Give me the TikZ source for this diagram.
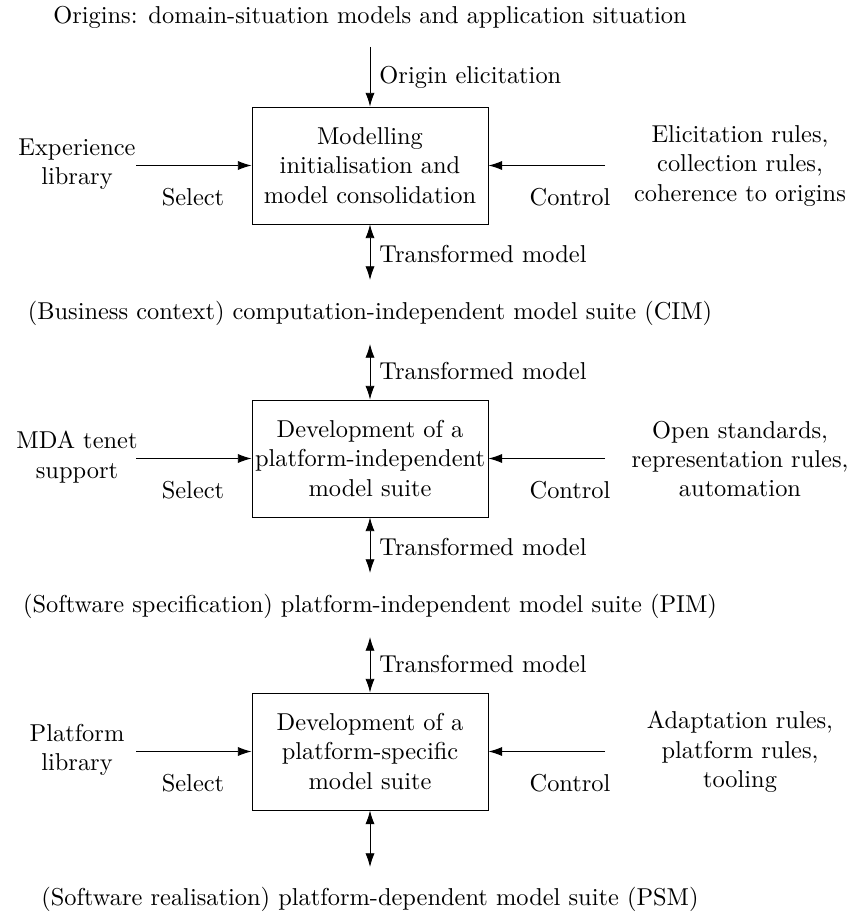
\documentclass[tikz,border=0pt]{standalone}
\usetikzlibrary{arrows.meta}
\begin{document}
\begin{tikzpicture}[x=0.4367pt,y=-0.4367pt,
  every node/.append style={font=\fontsize{10.66pt}{12.8pt}\selectfont},
  proc/.style={draw,minimum width=236*0.4367pt,minimum height=117*0.4367pt,align=center,inner sep=1pt},
  txt/.style={align=center,inner sep=0pt},
  lbl/.style={anchor=west,inner sep=0pt},
  flow/.style={-{Latex[length=6pt,width=4pt]}},
  both/.style={{Latex[length=6pt,width=4pt]}-{Latex[length=6pt,width=4pt]}}]
\useasboundingbox (0,0) rectangle (854,913);

% ---- stage 1: modelling initialisation ----
\node[txt] (orig) at (370,17) {Origins: domain-situation models and application situation};
\node[proc] (b1) at (370,165.5) {Modelling\\initialisation and\\model consolidation};
\coordinate (o1) at (370,47);
\draw[flow] (o1) -- (b1.north);
\node[lbl] (oe) at (379,77) {Origin elicitation};
\node[txt] (exp) at (77,164) {Experience\\library};
\coordinate (s1) at (136,165.5);
\draw[flow] (s1) -- (b1.west);
\node[txt] (sel1) at (193,197) {Select};
\node[txt] (rul1) at (740,166) {Elicitation rules,\\collection rules,\\coherence to origins};
\coordinate (c1) at (605,165.5);
\draw[flow] (c1) -- (b1.east);
\node[txt] (ctl1) at (570,197) {Control};
\coordinate (d1) at (370,280);
\draw[both] (b1.south) -- (d1);
\node[lbl] (tm1) at (379,254) {Transformed model};
\node[txt] (cim) at (370,313) {(Business context) computation-independent model suite (CIM)};

% ---- stage 2: platform-independent model suite ----
\coordinate (u2) at (370,344);
\node[proc] (b2) at (370,458.5) {Development of a\\platform-independent\\model suite};
\draw[both] (u2) -- (b2.north);
\node[lbl] (tm2) at (379,371) {Transformed model};
\node[txt] (mda) at (77,457) {MDA tenet\\support};
\coordinate (s2) at (136,458.5);
\draw[flow] (s2) -- (b2.west);
\node[txt] (sel2) at (193,490) {Select};
\node[txt] (rul2) at (740,459) {Open standards,\\representation rules,\\automation};
\coordinate (c2) at (605,458.5);
\draw[flow] (c2) -- (b2.east);
\node[txt] (ctl2) at (570,490) {Control};
\coordinate (d2) at (370,573);
\draw[both] (b2.south) -- (d2);
\node[lbl] (tm3) at (379,547) {Transformed model};
\node[txt] (pim) at (370,606) {(Software specification) platform-independent model suite (PIM)};

% ---- stage 3: platform-specific model suite ----
\coordinate (u3) at (370,637);
\node[proc] (b3) at (370,751.5) {Development of a\\platform-specific\\model suite};
\draw[both] (u3) -- (b3.north);
\node[lbl] (tm4) at (379,664) {Transformed model};
\node[txt] (plib) at (77,750) {Platform\\library};
\coordinate (s3) at (136,751.5);
\draw[flow] (s3) -- (b3.west);
\node[txt] (sel3) at (193,783) {Select};
\node[txt] (rul3) at (740,752) {Adaptation rules,\\platform rules,\\tooling};
\coordinate (c3) at (605,751.5);
\draw[flow] (c3) -- (b3.east);
\node[txt] (ctl3) at (570,783) {Control};
\coordinate (d3) at (370,867);
\draw[both] (b3.south) -- (d3);
\node[txt] (psm) at (370,899) {(Software realisation) platform-dependent model suite (PSM)};
\end{tikzpicture}
\end{document}
